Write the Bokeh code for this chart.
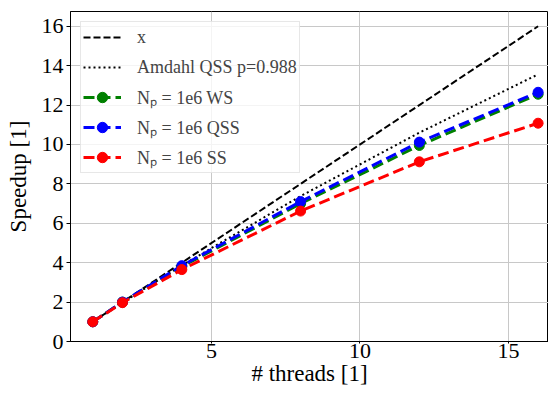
from bokeh.plotting import figure
from bokeh.models import Legend, LegendItem, Range1d, FixedTicker
from bokeh.embed import file_html
from bokeh.resources import INLINE

threads = [1, 2, 4, 8, 12, 16]
ideal = [1, 2, 4, 8, 12, 16]
amdahl = [1.0, 1.976, 3.861, 7.380, 10.60, 13.56]
ws = [1.0, 2.0, 3.80, 7.00, 9.95, 12.55]
qss = [1.0, 2.0, 3.85, 7.10, 10.12, 12.65]
ss = [1.0, 1.97, 3.65, 6.62, 9.12, 11.08]

x_ticks = [5, 10, 15]
y_ticks = [0, 2, 4, 6, 8, 10, 12, 14, 16]

SERIF = "Liberation Serif"

p = figure(width=548, height=388, output_backend="svg", toolbar_location=None,
           x_range=Range1d(0.25, 16.35), y_range=Range1d(0, 16.75),
           min_border_left=70, min_border_right=0, min_border_top=11, min_border_bottom=46)

p.outline_line_color = "black"
p.outline_line_width = 1
p.background_fill_color = "white"
p.border_fill_color = "white"

for ax in (p.xaxis[0], p.yaxis[0]):
    ax.major_label_text_font = SERIF
    ax.major_label_text_font_size = "22px"
    ax.major_label_text_color = "black"
    ax.axis_label_text_font = SERIF
    ax.axis_label_text_font_size = "23px"
    ax.axis_label_text_font_style = "normal"
    ax.axis_label_text_color = "black"
    ax.minor_tick_line_color = None
    ax.major_tick_in = 0
    ax.major_tick_out = 4
    ax.axis_line_color = "black"
    ax.major_tick_line_color = "black"
    ax.major_label_standoff = 0
    ax.axis_label_standoff = 0

p.xaxis[0].ticker = FixedTicker(ticks=x_ticks)
p.yaxis[0].ticker = FixedTicker(ticks=y_ticks)
p.xaxis[0].axis_label = "# threads [1]"
p.yaxis[0].axis_label = "Speedup [1]"
p.xaxis[0].major_tick_out = 2
p.yaxis[0].axis_label_standoff = 8
p.yaxis[0].major_label_standoff = 3

p.xgrid.ticker = FixedTicker(ticks=x_ticks)
p.ygrid.ticker = FixedTicker(ticks=y_ticks)
p.grid.grid_line_color = "#c8c8c8"
p.grid.grid_line_width = 1

r_ideal = p.line(threads, ideal, line_color="black", line_width=2, line_dash="7 3")
r_amd = p.line(threads, amdahl, line_color="black", line_width=2, line_dash="2 3")

def series(vals, color):
    l = p.line(threads, vals, line_color=color, line_width=3, line_dash="11 5")
    s = p.scatter(threads, vals, size=10, color=color, marker="circle")
    return [l, s]

r_ws = series(ws, "green")
r_qss = series(qss, "blue")
r_ss = series(ss, "red")

legend = Legend(items=[
    LegendItem(label="x", renderers=[r_ideal]),
    LegendItem(label="Amdahl QSS p=0.988", renderers=[r_amd]),
    LegendItem(label="Nₚ = 1e6 WS", renderers=r_ws),
    LegendItem(label="Nₚ = 1e6 QSS", renderers=r_qss),
    LegendItem(label="Nₚ = 1e6 SS", renderers=r_ss),
], location="top_left")
legend.label_text_font = SERIF
legend.label_text_font_size = "18px"
legend.label_height = 26
legend.glyph_height = 26
legend.glyph_width = 38
legend.spacing = 4
legend.padding = 2
legend.margin = 10
legend.label_standoff = 16
legend.border_line_color = "#d0d0d0"
legend.border_line_width = 1
legend.background_fill_alpha = 0.8
p.add_layout(legend)

open("out.html", "w").write(file_html(p, INLINE))
